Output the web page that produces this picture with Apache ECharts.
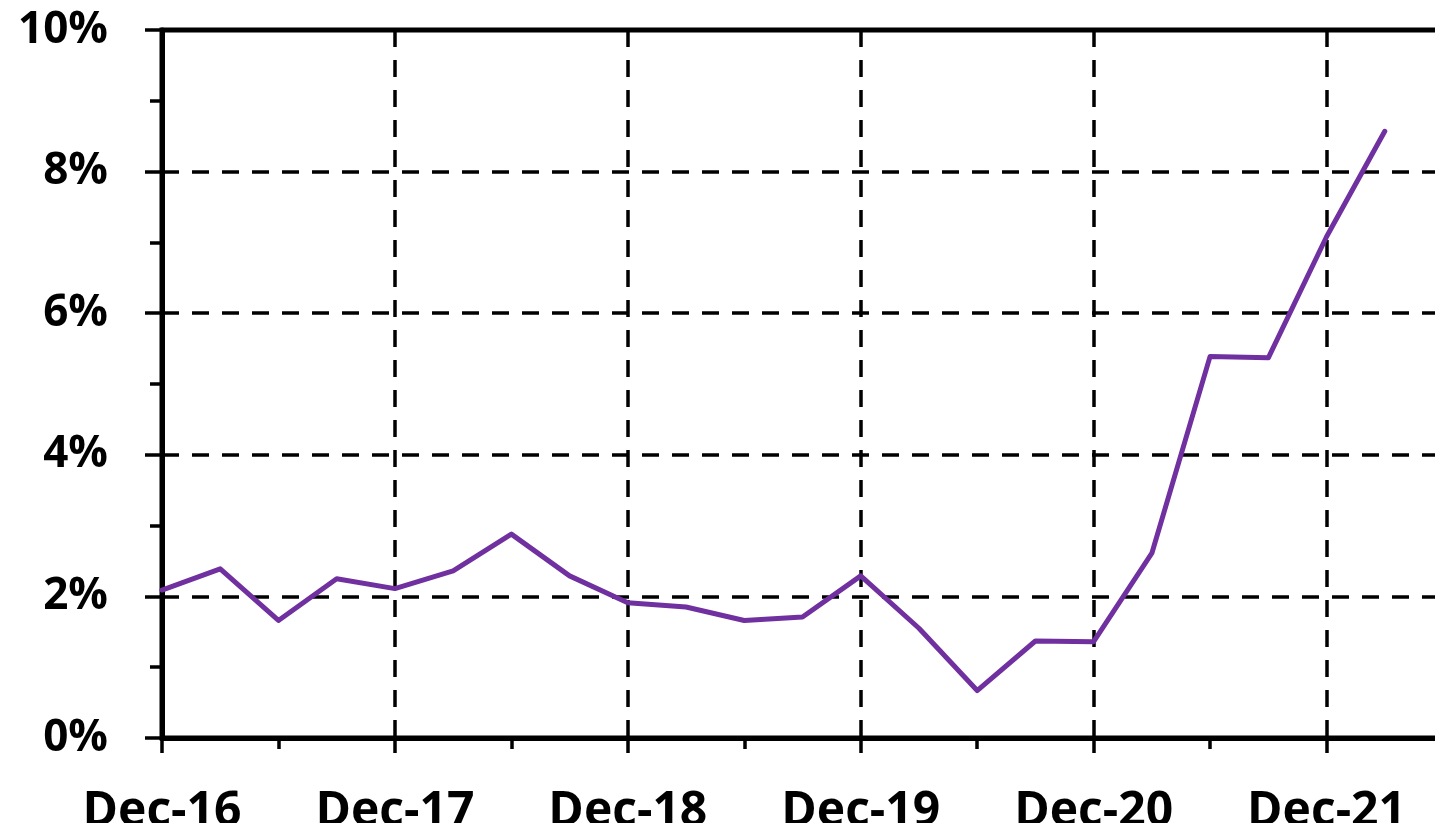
<!DOCTYPE html>
<html>
<head>
<meta charset="utf-8">
<script src="https://cdn.jsdelivr.net/npm/echarts@6/dist/echarts.min.js"></script>
<style>
html,body{margin:0;padding:0;background:#fff;}
#chart{width:1435px;height:823px;}
</style>
</head>
<body>
<div id="chart"></div>
<script>
// Quarterly categories (Dec-16 .. Jun-22)
var categories = ['Dec-16','Mar-17','Jun-17','Sep-17','Dec-17','Mar-18','Jun-18','Sep-18',
  'Dec-18','Mar-19','Jun-19','Sep-19','Dec-19','Mar-20','Jun-20','Sep-20',
  'Dec-20','Mar-21','Jun-21','Sep-21','Dec-21','Mar-22','Jun-22'];
// Series values in percent
var values = [2.09, 2.39, 1.66, 2.25, 2.11, 2.36, 2.88, 2.29,
  1.91, 1.85, 1.66, 1.71, 2.29, 1.55, 0.67, 1.37,
  1.36, 2.61, 5.39, 5.37, 7.08, 8.57, null];
// Y-axis ticks
var yMin = 0, yMax = 10, yStep = 2;

var FONT = 'Open Sans';
var chart = echarts.init(document.getElementById('chart'));
var dash = {type: [17, 13], color: '#000', width: 3.5};
chart.setOption({
  animation: false,
  grid: {left: 162, right: -8, top: 30, bottom: 85, outerBoundsMode: 'none', containLabel: false,
    show: true, borderColor: '#000', borderWidth: 5, backgroundColor: 'transparent'},
  xAxis: [{
    type: 'category', data: categories, boundaryGap: false,
    axisLine: {lineStyle: {color: '#000', width: 5}},
    axisTick: {show: true, interval: 3, length: 15, lineStyle: {color: '#000', width: 3.5}},
    axisLabel: {interval: 3, color: '#000', fontFamily: FONT, fontWeight: 'bold', fontSize: 48, margin: 50},
    splitLine: {show: true, interval: 3, lineStyle: dash}
  }, {
    type: 'category', data: categories, boundaryGap: false, position: 'bottom',
    axisLine: {show: false},
    axisTick: {show: true, interval: function (i) { return i % 4 === 2; }, length: 11, lineStyle: {color: '#000', width: 3.5}},
    axisLabel: {show: false},
    splitLine: {show: false}
  }],
  yAxis: {
    type: 'value', min: yMin, max: yMax, interval: yStep,
    axisLine: {show: true, lineStyle: {color: '#000', width: 5}},
    axisTick: {show: true, length: 17, lineStyle: {color: '#000', width: 3.5}},
    minorTick: {show: true, splitNumber: 2, length: 12, lineStyle: {color: '#000', width: 3.5}},
    axisLabel: {formatter: '{value}%', color: '#000', fontFamily: FONT, fontWeight: 'bold', fontSize: 44, margin: 54},
    splitLine: {show: true, lineStyle: dash}
  },
  series: [{
    type: 'line', data: values, xAxisIndex: 0, showSymbol: false, symbol: 'none',
    lineStyle: {color: '#7030A0', width: 5, cap: 'round', join: 'round'},
    z: 5
  }]
});
</script>
</body>
</html>
